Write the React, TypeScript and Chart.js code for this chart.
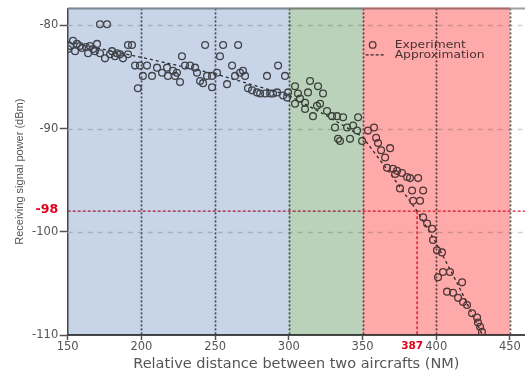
import { useEffect, useRef } from 'react';
import { Chart, registerables } from 'chart.js';

Chart.register(...registerables);

// Experiment samples (NM, dBm)
const expDistance = [
  150.2, 151.6, 153.6, 155.0, 156.3, 158.3, 159.7, 162.4, 163.8, 165.1,
  167.2, 168.5, 169.9, 171.9, 171.9, 176.7, 175.3, 178.7, 180.1, 182.1,
  183.4, 185.5, 187.5, 190.9, 190.9, 193.6, 195.7, 197.6, 199.0, 201.0,
  203.8, 207.2, 210.6, 214.0, 217.4, 218.0, 221.4, 222.8, 224.1, 226.2,
  227.5, 229.6, 233.0, 236.4, 237.7, 239.8, 241.8, 243.2, 244.5, 247.9,
  247.9, 251.3, 253.3, 255.4, 258.1, 261.5, 263.5, 265.6, 266.9, 268.9,
  270.3, 272.3, 275.0, 278.4, 280.5, 283.9, 285.2, 287.3, 289.3, 292.0,
  292.7, 296.1, 297.4, 298.8, 299.5, 304.2, 306.2, 307.6, 311.0, 304.2,
  314.4, 319.8, 313.0, 323.2, 319.1, 311.0, 321.2, 325.9, 329.3, 316.4,
  332.7, 336.8, 347.0, 331.3, 339.5, 343.6, 346.3, 333.4, 341.5, 334.7,
  349.7, 353.7, 357.8, 359.2, 360.5, 362.6, 368.7, 365.3, 366.6, 370.7,
  373.4, 372.1, 376.8, 380.2, 382.2, 387.7, 375.4, 383.6, 391.1, 384.3,
  389.0, 391.1, 393.8, 397.2, 397.8, 400.5, 403.9, 404.6, 409.3, 401.2,
  417.5, 407.3, 411.4, 414.8, 418.2, 420.9, 424.3, 427.7, 428.3, 429.7,
  431.0,
];
const expPower = [
  -82.3, -82.0, -81.5, -82.5, -81.8, -82.0, -82.2, -82.1, -82.7, -82.0,
  -82.3, -82.5, -81.8, -82.7, -79.9, -79.9, -83.2, -82.8, -82.5, -83.0,
  -82.7, -82.8, -83.2, -82.8, -81.9, -81.9, -83.9, -86.1, -83.9, -84.9,
  -83.9, -84.9, -84.1, -84.6, -84.1, -84.9, -84.4, -84.9, -84.6, -85.5,
  -83.0, -83.9, -83.9, -84.1, -84.6, -85.4, -85.6, -81.9, -84.9, -84.9,
  -86.0, -84.6, -83.0, -81.9, -85.7, -83.9, -84.9, -81.9, -84.6, -84.4,
  -84.9, -86.1, -86.3, -86.5, -86.6, -86.6, -84.9, -86.6, -86.6, -86.5,
  -83.9, -86.8, -84.9, -87.0, -86.5, -85.9, -86.6, -87.1, -87.5, -87.6,
  -85.4, -85.9, -86.5, -86.6, -87.8, -88.1, -87.6, -88.3, -88.8, -88.8,
  -88.8, -88.9, -88.9, -89.9, -89.9, -89.7, -90.2, -91.0, -91.0, -91.2,
  -91.2, -90.2, -89.9, -90.9, -91.4, -92.1, -91.9, -92.8, -93.8, -93.9,
  -94.1, -94.4, -94.3, -94.7, -94.8, -94.8, -95.8, -96.0, -96.0, -97.0,
  -97.0, -98.6, -99.2, -99.7, -100.8, -101.8, -102.0, -103.9, -103.9, -104.4,
  -104.9, -105.8, -105.9, -106.4, -106.8, -107.1, -107.9, -108.3, -108.8, -109.2,
  -109.7,
];

// Approximation curve
const approxDistance = [150, 200, 250, 300, 325, 350, 370, 387, 400, 415, 432];
const approxPower = [-81.6, -83.1, -84.7, -86.8, -88.7, -90.8, -94.6, -98, -101.1, -105.2, -110.2];

// Ticks and reference values
const xTicks = [150, 200, 250, 300, 350, 400, 450];
const yTicks = [-110, -100, -90, -80];
const yGrid = [-100, -90, -80];
const zoneBounds = [150, 300, 350, 450];
const thresholdPower = -98;
const thresholdDistance = 387;

const zoneColors = ['rgb(200,213,233)', 'rgb(186,210,186)', 'rgb(255,170,170)'];

const decorPlugin = {
  id: 'decor',
  beforeDatasetsDraw(chart: any) {
    const { ctx, chartArea: a, scales } = chart;
    const x = scales.x;
    const y = scales.y;
    ctx.save();
    // horizontal dashed grid
    ctx.lineWidth = 1.5;
    ctx.strokeStyle = '#d2d2d2';
    ctx.setLineDash([5, 5]);
    for (const v of yGrid) {
      const py = Math.round(y.getPixelForValue(v)) + 0.5;
      ctx.beginPath();
      ctx.moveTo(a.left, py);
      ctx.lineTo(a.right, py);
      ctx.stroke();
    }
    // vertical dotted grid
    ctx.strokeStyle = '#555555';
    ctx.lineWidth = 1.7;
    ctx.setLineDash([2, 2]);
    for (const v of xTicks) {
      if (v === xTicks[0]) continue;
      const px = Math.round(x.getPixelForValue(v)) + 0.5;
      ctx.beginPath();
      ctx.moveTo(px, a.top);
      ctx.lineTo(px, a.bottom);
      ctx.stroke();
    }
    // top border
    ctx.setLineDash([]);
    ctx.strokeStyle = '#a0a0a0';
    ctx.lineWidth = 2;
    ctx.beginPath();
    ctx.moveTo(a.left, a.top);
    ctx.lineTo(a.right, a.top);
    ctx.stroke();
    // red threshold lines
    ctx.strokeStyle = '#d81e3c';
    ctx.lineWidth = 1.4;
    ctx.setLineDash([3, 2]);
    const ty = y.getPixelForValue(thresholdPower);
    const tx = x.getPixelForValue(thresholdDistance);
    ctx.beginPath();
    ctx.moveTo(a.left, ty);
    ctx.lineTo(a.right, ty);
    ctx.stroke();
    ctx.beginPath();
    ctx.moveTo(tx, ty);
    ctx.lineTo(tx, a.bottom);
    ctx.stroke();
    ctx.restore();
  },
  afterDraw(chart: any) {
    const { ctx, chartArea: a, scales } = chart;
    const x = scales.x;
    const y = scales.y;
    ctx.save();
    // legend
    const lx = x.getPixelForValue(352.8);
    ctx.strokeStyle = '#505050';
    ctx.lineWidth = 1.3;
    ctx.beginPath();
    ctx.arc(lx + 6, a.top + 36.5, 3.3, 0, Math.PI * 2);
    ctx.stroke();
    ctx.strokeStyle = '#333';
    ctx.setLineDash([3, 2]);
    ctx.beginPath();
    ctx.moveTo(lx - 1, a.top + 46.5);
    ctx.lineTo(lx + 17, a.top + 46.5);
    ctx.stroke();
    ctx.setLineDash([]);
    ctx.fillStyle = '#4a4a4a';
    ctx.font = '11px "DejaVu Sans"';
    ctx.textBaseline = 'middle';
    ctx.textAlign = 'left';
    const texts = ['Experiment', 'Approximation'];
    texts.forEach((t, i) => {
      ctx.save();
      ctx.translate(lx + 28, a.top + 36.5 + i * 10);
      ctx.scale(1.12, 1);
      ctx.fillText(t, 0, 0);
      ctx.restore();
    });
    // colored zones (multiply overlay)
    ctx.globalCompositeOperation = 'multiply';
    for (let i = 0; i < zoneBounds.length - 1; i++) {
      const x0 = x.getPixelForValue(zoneBounds[i]);
      const x1 = x.getPixelForValue(zoneBounds[i + 1]);
      ctx.fillStyle = zoneColors[i];
      ctx.fillRect(x0, a.top - 1, x1 - x0, a.bottom - a.top + 1);
    }
    ctx.globalCompositeOperation = 'source-over';
    // red labels
    ctx.fillStyle = '#e3001b';
    ctx.font = 'bold 12.5px "DejaVu Sans"';
    ctx.textAlign = 'right';
    ctx.textBaseline = 'middle';
    ctx.fillText(String(thresholdPower), a.left - 9.5, y.getPixelForValue(thresholdPower) - 1);
    ctx.font = 'bold 10.5px "DejaVu Sans"';
    ctx.fillText(String(thresholdDistance), x.getPixelForValue(thresholdDistance) + 6, a.bottom + 11.5);
    ctx.restore();
  },
};

export default function App() {
  const ref = useRef<HTMLCanvasElement>(null);
  useEffect(() => {
    const canvas = ref.current;
    if (!canvas) return;
    const chart = new Chart(canvas, {
      type: 'scatter',
      data: {
        datasets: [
          {
            label: 'Experiment',
            data: expDistance.map((d, i) => ({ x: d, y: expPower[i] })),
            pointRadius: 3.4,
            pointBorderWidth: 1.3,
            borderColor: '#505050',
            backgroundColor: 'rgba(0,0,0,0)',
            pointBackgroundColor: 'rgba(0,0,0,0)',
            pointBorderColor: '#505050',
          },
          {
            label: 'Approximation',
            data: approxDistance.map((d, i) => ({ x: d, y: approxPower[i] })),
            showLine: true,
            pointRadius: 0,
            borderColor: '#333',
            borderWidth: 1.3,
            borderDash: [3, 3],
            backgroundColor: 'rgba(0,0,0,0)',
          },
        ],
      },
      options: {
        animation: false,
        responsive: false,
        layout: { padding: { top: 7, left: 0, right: 0, bottom: 0 }, autoPadding: false },
        plugins: { legend: { display: false }, tooltip: { enabled: false } },
        scales: {
          x: {
            type: 'linear',
            min: 150,
            max: 460.2,
            afterBuildTicks: (s: any) => {
              s.ticks = xTicks.map((v) => ({ value: v }));
            },
            afterFit: (s: any) => {
              s.height = 41;
            },
            grid: { drawOnChartArea: false, drawTicks: true, tickLength: 5, tickColor: '#555', tickWidth: 1.5 },
            border: { display: true, color: '#4a4a4a', width: 2 },
            ticks: {
              color: '#555',
              font: { family: 'DejaVu Sans', size: 11.5 },
              padding: 0,
              maxRotation: 0,
              autoSkip: false,
            },
            title: {
              display: true,
              text: 'Relative distance between two aircrafts (NM)',
              color: '#555',
              font: { family: 'DejaVu Sans', size: 14.5 },
              padding: { top: 0, bottom: 3 },
            },
          },
          y: {
            type: 'linear',
            min: -110,
            max: -78.36,
            afterBuildTicks: (s: any) => {
              s.ticks = yTicks.map((v) => ({ value: v }));
            },
            afterFit: (s: any) => {
              s.width = 67.7;
            },
            grid: { drawOnChartArea: false, drawTicks: true, tickLength: 8, tickColor: '#555', tickWidth: 1.5 },
            border: { display: true, color: '#4a4a4a', width: 1.5 },
            ticks: {
              color: '#555',
              font: { family: 'DejaVu Sans', size: 11.5 },
              padding: 1.5,
              autoSkip: false,
            },
            title: {
              display: true,
              text: 'Receiving signal power (dBm)',
              color: '#555',
              font: { family: 'Liberation Sans', size: 11 },
              padding: { top: 13, bottom: 0 },
            },
          },
        },
      },
      plugins: [decorPlugin],
    } as any);
    return () => chart.destroy();
  }, []);
  return (
    <div style={{ position: 'absolute', left: 0, top: 0, width: 525, height: 376, background: '#fff' }}>
      <canvas ref={ref} width={525} height={376} style={{ display: 'block', width: 525, height: 376 }} />
    </div>
  );
}
